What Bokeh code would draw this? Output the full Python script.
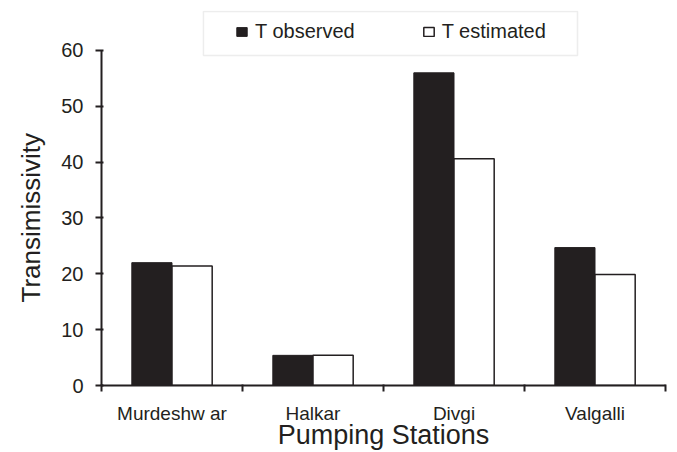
from bokeh.plotting import figure
from bokeh.models import (Range1d, FixedTicker, Legend, LegendItem, BoxAnnotation,
                          ColumnDataSource, Title)
from bokeh.embed import file_html
from bokeh.resources import INLINE

stations = ["Murdeshw ar", "Halkar", "Divgi", "Valgalli"]
t_observed = [22.0, 5.4, 56.0, 24.7]
t_estimated = [21.4, 5.4, 40.6, 19.9]
y_ticks = [0, 10, 20, 30, 40, 50, 60]

INK = "#231f20"
FONT = "Liberation Sans"

centers = [i + 0.5 for i in range(len(stations))]
bw = 0.285
src = ColumnDataSource(dict(
    xo=[c - bw / 2 for c in centers],
    xe=[c + bw / 2 for c in centers],
    obs=t_observed,
    est=t_estimated,
))

p = figure(width=677, height=452, output_backend="svg", toolbar_location=None,
           x_range=Range1d(0, len(stations)), y_range=Range1d(0, 67.16),
           min_border_left=101, min_border_top=10, min_border_bottom=67,
           min_border_right=12)
p.outline_line_color = None
p.grid.visible = False
p.background_fill_color = "white"

r_obs = p.vbar(x="xo", top="obs", width=bw, source=src, fill_color=INK,
               line_color=INK, line_width=1)
r_est = p.vbar(x="xe", top="est", width=bw, source=src, fill_color="white",
               line_color=INK, line_width=1.5)

# axes
xa = p.xaxis[0]
xa.ticker = FixedTicker(ticks=centers, minor_ticks=list(range(len(stations) + 1)))
xa.major_label_overrides = {c: s for c, s in zip(centers, stations)}
xa.major_tick_out = 0
xa.major_tick_in = 0
xa.minor_tick_out = 6
xa.minor_tick_in = 1
xa.minor_tick_line_color = INK
xa.minor_tick_line_width = 2
xa.axis_line_color = INK
xa.axis_line_width = 2
xa.major_label_text_font = FONT
xa.major_label_text_font_size = "19px"
xa.major_label_text_color = INK
xa.major_label_standoff = 11
xa.axis_label = "Pumping Stations"
xa.axis_label_text_font = FONT
xa.axis_label_text_font_size = "27px"
xa.axis_label_text_font_style = "normal"
xa.axis_label_text_color = INK
xa.axis_label_standoff = -7

ya = p.yaxis[0]
ya.ticker = FixedTicker(ticks=y_ticks, minor_ticks=[])
ya.bounds = (0, 60)
ya.major_tick_out = 6
ya.major_tick_in = 2
ya.major_tick_line_color = INK
ya.major_tick_line_width = 2
ya.axis_line_color = INK
ya.axis_line_width = 2
ya.major_label_text_font = FONT
ya.major_label_text_font_size = "20px"
ya.major_label_text_color = INK
ya.major_label_standoff = 12

# y-axis title, positioned to be centred on the drawn axis (0..60)
ytitle = Title(text="Transimissivity", align="left", offset=83,
               text_font=FONT, text_font_size="26px", text_font_style="normal",
               text_color=INK)
if "standoff" in Title.properties():
    ytitle.standoff = 25
p.add_layout(ytitle, "left")

# legend frame
box = BoxAnnotation(left=0.723, right=3.376, top=66.99, bottom=59.1,
                    fill_color="white", fill_alpha=1.0,
                    line_color="#c4c4c4", line_width=1.5)
p.add_layout(box)

legend = Legend(items=[LegendItem(label="T observed", renderers=[r_obs]),
                       LegendItem(label="T estimated", renderers=[r_est])],
                orientation="horizontal", location=(134, 342),
                border_line_color=None, background_fill_alpha=0,
                glyph_width=13, glyph_height=11, label_standoff=7,
                spacing=67, padding=5, margin=0,
                label_text_font=FONT, label_text_font_size="20px",
                label_text_color=INK)
p.add_layout(legend, "center")

open("out.html", "w").write(file_html(p, INLINE))
